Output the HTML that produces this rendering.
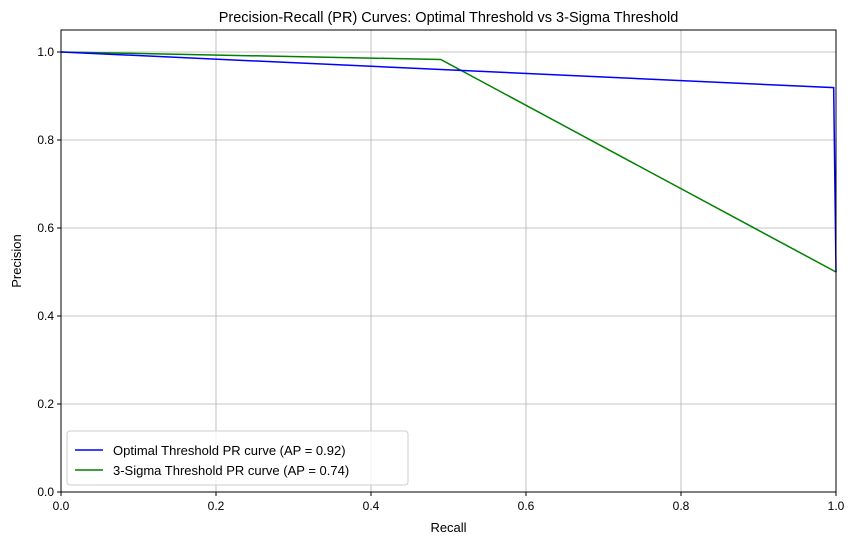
<!DOCTYPE html>
<html><head><meta charset="utf-8"><style>
body{margin:0;background:#fff;}
svg{display:block;font-family:"Liberation Sans","DejaVu Sans",sans-serif;}
</style></head><body>
<svg id="chart" width="857" height="545">
<text x="448.5" y="22" text-anchor="middle" font-size="14.5">Precision-Recall (PR) Curves: Optimal Threshold vs 3-Sigma Threshold</text>
<g id="grid"></g>
<g id="series"></g>
<rect x="61" y="30" width="775" height="462" fill="none" stroke="#000" stroke-width="1"/>
<g id="ticks"></g>
<text x="448.5" y="532" text-anchor="middle" font-size="13">Recall</text>
<text x="21" y="261" text-anchor="middle" font-size="13" transform="rotate(-90 21 261)">Precision</text>
<g>
<rect x="67" y="431" width="341" height="54" rx="3" fill="#fff" fill-opacity="0.8" stroke="#ccc"/>
<line x1="75" y1="450" x2="103" y2="450" stroke="#0000ff" stroke-width="1.5"/>
<text x="113" y="455" font-size="13">Optimal Threshold PR curve (AP = 0.92)</text>
<line x1="75" y1="470" x2="103" y2="470" stroke="#008000" stroke-width="1.5"/>
<text x="113" y="475" font-size="13">3-Sigma Threshold PR curve (AP = 0.74)</text>
</g>
</svg>
<script>
const xTicks=[0,0.2,0.4,0.6,0.8,1.0];
const yTicks=[0,0.2,0.4,0.6,0.8,1.0];
const optRecall=[0,0.997,1.0];
const optPrecision=[1.0,0.919,0.5];
const sigRecall=[0,0.49,1.0];
const sigPrecision=[1.0,0.983,0.5];
const X=v=>61+v*775;
const Y=v=>492-v*440;
const NS="http://www.w3.org/2000/svg";
const grid=document.getElementById('grid'),ticks=document.getElementById('ticks'),series=document.getElementById('series');
function mk(t,a,p){const e=document.createElementNS(NS,t);for(const k in a)e.setAttribute(k,a[k]);p.appendChild(e);return e;}
xTicks.forEach(v=>{
 const g=mk('line',{x1:X(v),x2:X(v),y1:30,y2:492,stroke:'#b0b0b0','stroke-width':0.8},grid);
 
 
 mk('line',{x1:X(v),x2:X(v),y1:492,y2:496,stroke:'#000'},ticks);
 const t=mk('text',{x:X(v),y:510,'text-anchor':'middle','font-size':12},ticks);t.textContent=v.toFixed(1);
 
 
});
yTicks.forEach(v=>{
 const g=mk('line',{x1:61,x2:836,y1:Y(v),y2:Y(v),stroke:'#b0b0b0','stroke-width':0.8},grid);
 
 
 mk('line',{x1:57,x2:61,y1:Y(v),y2:Y(v),stroke:'#000'},ticks);
 const t=mk('text',{x:54,y:Y(v)+4,'text-anchor':'end','font-size':12},ticks);t.textContent=v.toFixed(1);
 
 
});
function line(xs,ys,c,name){
 const p=mk('polyline',{points:xs.map((x,i)=>X(x)+','+Y(ys[i])).join(' '),fill:'none',stroke:c,'stroke-width':1.5},series);
 
 
}
line(sigRecall,sigPrecision,'#008000','3sigma-pr-curve');
line(optRecall,optPrecision,'#0000ff','optimal-pr-curve');
</script>
</body></html>
